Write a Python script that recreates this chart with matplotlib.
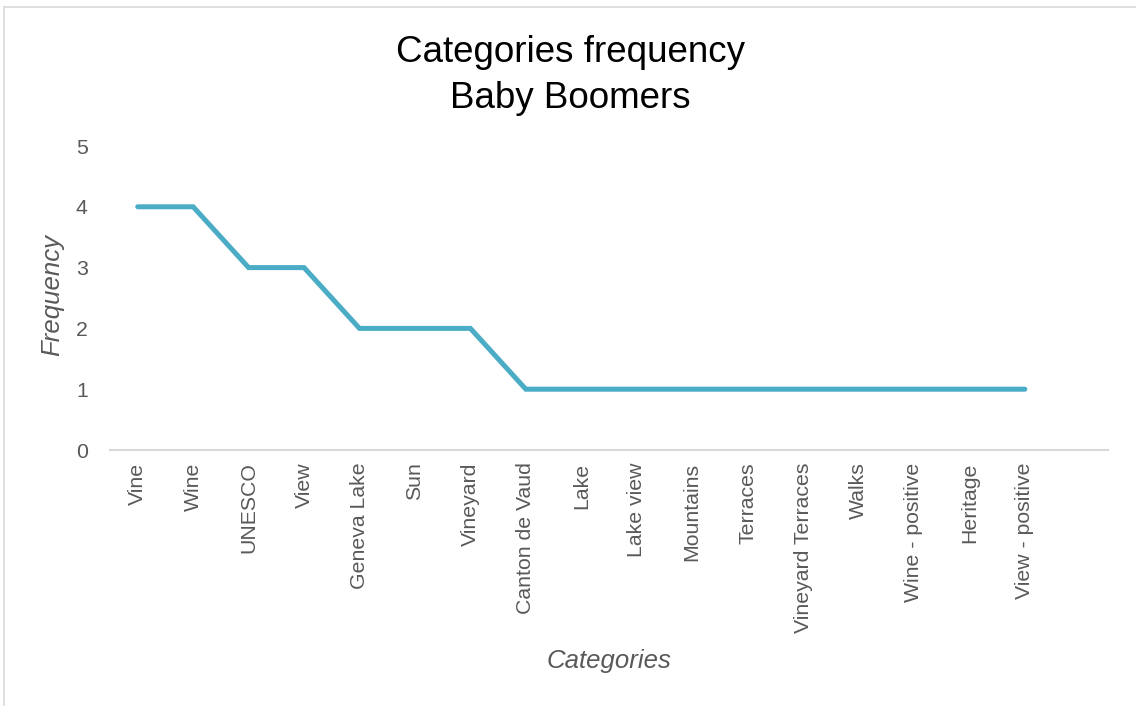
import matplotlib.pyplot as plt
from matplotlib.patches import Rectangle

categories = ['Vine', 'Wine', 'UNESCO', 'View', 'Geneva Lake', 'Sun', 'Vineyard',
              'Canton de Vaud', 'Lake', 'Lake view', 'Mountains', 'Terraces',
              'Vineyard Terraces', 'Walks', 'Wine - positive', 'Heritage',
              'View - positive']
frequency = [4, 4, 3, 3, 2, 2, 2, 1, 1, 1, 1, 1, 1, 1, 1, 1, 1]

LINE_COLOR = '#4bacc6'
TEXT_GREY = '#595959'
AXIS_GREY = '#d9d9d9'

plt.rcParams['font.family'] = ['Liberation Sans', 'DejaVu Sans']

W, H = 1136, 706
fig = plt.figure(figsize=(W / 100, H / 100), dpi=100)

# chart area border (runs off the right and bottom edges)
fig.patches.append(Rectangle((4 / W, -0.05), 1.2, 1 - 7 / H + 0.05,
                             transform=fig.transFigure, fill=False,
                             edgecolor=AXIS_GREY, linewidth=1.2))

ax = fig.add_axes([110 / W, 1 - 450 / H, (1108 - 110) / W, (450 - 146) / H])
x = list(range(len(categories)))
ax.plot(x, frequency, color=LINE_COLOR, linewidth=3.6,
        solid_capstyle='round', solid_joinstyle='miter')

ax.set_xlim(-0.5, len(categories) + 0.5)
ax.set_ylim(0, 5)
ax.set_yticks(range(6))
ax.set_xticks(x)
ax.set_xticklabels(categories, rotation=90, va='top')

for side in ('top', 'right', 'left'):
    ax.spines[side].set_visible(False)
ax.spines['bottom'].set_color(AXIS_GREY)
ax.spines['bottom'].set_linewidth(1.5)
ax.tick_params(axis='both', length=0, labelsize=15.3, colors=TEXT_GREY)
ax.tick_params(axis='x', pad=9)
ax.tick_params(axis='y', pad=16)

ax.set_xlabel('Categories', fontsize=18.5, style='italic', color=TEXT_GREY)
ax.xaxis.set_label_coords(0.5, -(649 - 450) / (450 - 146))
ax.set_ylabel('Frequency', fontsize=18.5, style='italic', color=TEXT_GREY)
ax.yaxis.set_label_coords(-(110 - 64) / (1108 - 110), (450 - 295) / (450 - 146))

fig.text(570 / W, 1 - 53 / H, 'Categories frequency', fontsize=26.5,
         ha='center', va='center', color='black')
fig.text(570 / W, 1 - 98 / H, 'Baby Boomers', fontsize=26.5,
         ha='center', va='center', color='black')

fig.savefig('out.png', dpi=100)
